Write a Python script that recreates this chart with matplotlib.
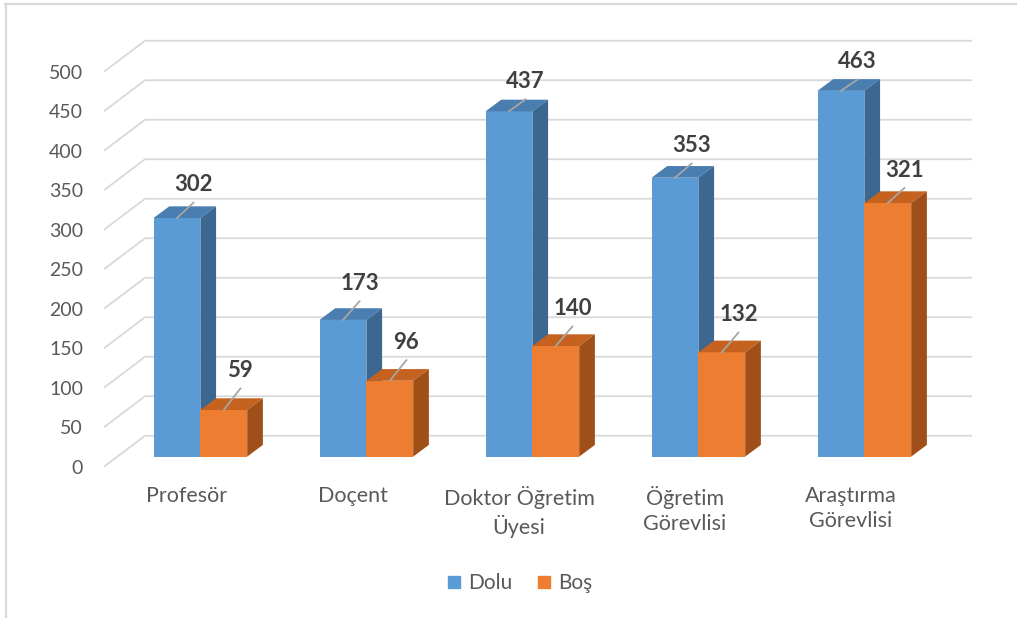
import matplotlib.pyplot as plt
from matplotlib.lines import Line2D
from matplotlib.patches import Polygon

plt.rcParams['font.family'] = ['Lato', 'DejaVu Sans']

categories = ['Profesör', 'Doçent', 'Doktor Öğretim\nÜyesi', 'Öğretim\nGörevlisi', 'Araştırma\nGörevlisi']
dolu = [302, 173, 437, 353, 463]
bos = [59, 96, 140, 132, 321]
yticks = list(range(0, 501, 50))

# colours: front, top, side
blue = ('#5B9BD5', '#4A7DB0', '#3B6790')
orange = ('#ED7D31', '#C5621F', '#A04F18')
grid_color = '#d9d9d9'
text_color = '#595959'

# pseudo-3d depth (data units)
DX, DY = 0.247, 39.2      # floor depth
F0 = 0.326                # bar front as fraction of depth
BDX, BDY = 0.0946, 14.8   # bar depth
W = 0.282                 # bar width
PX = 1 / 0.79             # value units per pixel

fig = plt.figure(figsize=(10.17, 6.18), dpi=100)
ax = fig.add_axes([104 / 1017, 1 - 466.7 / 618, 830 / 1017, 395 / 618])
ax.set_xlim(0, 5)
ax.set_ylim(0, 500)
for s in ax.spines.values():
    s.set_visible(False)

# grid: diagonal on the left wall + line on the back wall
for y in yticks:
    ax.plot([0, DX, 5.23], [y, y + DY, y + DY], color=grid_color, lw=1.3,
            clip_on=False, zorder=1, solid_capstyle='butt')


def draw_bars(xs, vals, cols):
    bottom = F0 * DY
    bars = ax.bar(xs, vals, width=W, bottom=bottom, align='edge',
                  color=cols[0], zorder=3, clip_on=False, linewidth=0)
    for b, v in zip(bars, vals):
        x0, x1 = b.get_x(), b.get_x() + b.get_width()
        top = bottom + v
        ax.add_patch(Polygon([(x0, top), (x1, top), (x1 + BDX, top + BDY), (x0 + BDX, top + BDY)],
                             closed=True, facecolor=cols[1], edgecolor='none', zorder=3, clip_on=False))
        ax.add_patch(Polygon([(x1, bottom), (x1 + BDX, bottom + BDY), (x1 + BDX, top + BDY), (x1, top)],
                             closed=True, facecolor=cols[2], edgecolor='none', zorder=3, clip_on=False))
        cx = (x0 + x1) / 2
        off = 41 - 0.025 * v   # label offset in px (shrinks with height, like the perspective)
        ax.plot([cx, cx + 0.1], [top, top + (off - 18) * PX], color='#a6a6a6', lw=1.3,
                zorder=4, clip_on=False)
        ax.text(cx + 0.1, top + off * PX, str(v), ha='center', va='center', fontsize=16,
                fontweight='bold', color='#404040', zorder=5)


shift = F0 * DX
for i in range(len(categories)):
    draw_bars([i + 0.5 + shift - W], [dolu[i]], blue)
    draw_bars([i + 0.5 + shift], [bos[i]], orange)

ax.set_yticks(yticks)
ax.set_yticklabels([str(t) for t in yticks], fontsize=14, color=text_color)
ax.tick_params(axis='y', length=0, pad=15)
ax.set_xticks([i + 0.5 for i in range(len(categories))])
ax.set_xticklabels(categories, fontsize=15.5, color=text_color, linespacing=1.3)
ax.tick_params(axis='x', length=0, pad=14)

handles = [Line2D([], [], marker='s', linestyle='none', markersize=8, color=blue[0]),
           Line2D([], [], marker='s', linestyle='none', markersize=8, color=orange[0])]
leg = fig.legend(handles, ['Dolu', 'Boş'], loc='center', bbox_to_anchor=(518 / 1017, 1 - 583 / 618),
                 ncol=2, frameon=False, fontsize=15, handletextpad=0.2, columnspacing=1.0,
                 handlelength=1.0)
for t in leg.get_texts():
    t.set_color(text_color)

# chart area border (top and left only visible)
fig.add_artist(Line2D([5 / 1017, 1], [1 - 4 / 618, 1 - 4 / 618], color=grid_color, lw=1.6))
fig.add_artist(Line2D([6 / 1017, 6 / 1017], [0, 1 - 4 / 618], color=grid_color, lw=1.6))

fig.savefig('out.png', dpi=100)
